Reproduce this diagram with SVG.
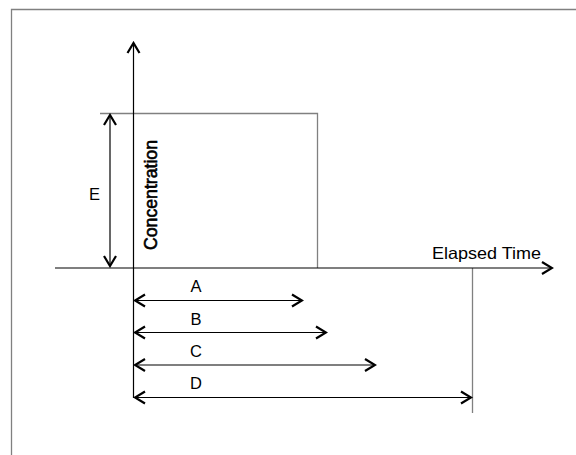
<svg xmlns="http://www.w3.org/2000/svg" width="576" height="455" viewBox="0 0 576 455">
<style>
.lbl{font-family:"Liberation Sans",Arial,sans-serif;font-size:16.5px;fill:#000}
.ax{stroke:#000;stroke-width:1.2;fill:none}
.gr{stroke:#808080;stroke-width:1.3;fill:none}
.dim{stroke:#000;stroke-width:1.2;fill:none;marker-start:url(#ah);marker-end:url(#ah)}
</style>
<defs>
<marker id="ah" markerUnits="userSpaceOnUse" viewBox="-12 -8 14 16" refX="0" refY="0" markerWidth="14" markerHeight="16" orient="auto-start-reverse">
<path d="M-10,-6 L0,0 L-10,6" fill="none" stroke="#000" stroke-width="2.2"/>
</marker>
<marker id="ah1" markerUnits="userSpaceOnUse" viewBox="-12 -8 14 16" refX="0" refY="0" markerWidth="14" markerHeight="16" orient="auto">
<path d="M-10,-6 L0,0 L-10,6" fill="none" stroke="#000" stroke-width="2.2"/>
</marker>
</defs>
<rect width="576" height="455" fill="#fff"/>
<g id="frame"><path class="gr" d="M11.5,455 V9.5 H576" stroke="#666"/></g>
<g id="pulse"><path class="gr" d="M100,113.5 H317.5 V268"/></g>
<g id="ref-line"><path class="gr" d="M472.5,268 V413"/></g>
<g id="connectors">
<path class="ax" d="M133.5,398 V43" marker-end="url(#ah1)"/>
<path class="ax" d="M55,268 H552" marker-end="url(#ah1)"/>
<path class="dim" d="M110,115 V266"/>
<path class="dim" d="M135,300.5 H302"/>
<path class="dim" d="M135,332.5 H326" stroke="#444" stroke-width="1.6"/>
<path class="dim" d="M135,365 H375"/>
<path class="dim" d="M135,397.5 H471"/>
</g>
<g id="labels">
<text class="lbl" x="94.5" y="200" text-anchor="middle">E</text>
<text class="lbl" x="196" y="292" text-anchor="middle">A</text>
<text class="lbl" x="196" y="324.5" text-anchor="middle">B</text>
<text class="lbl" x="196" y="357" text-anchor="middle">C</text>
<text class="lbl" x="196" y="389" text-anchor="middle">D</text>
<text class="lbl" x="432" y="258.5" textLength="109" lengthAdjust="spacingAndGlyphs">Elapsed Time</text>
<text class="lbl" transform="translate(157,250) rotate(-90)" x="0" y="0" style="font-size:17.5px" stroke="#000" stroke-width="0.6" textLength="110" lengthAdjust="spacingAndGlyphs">Concentration</text>
</g>
</svg>
